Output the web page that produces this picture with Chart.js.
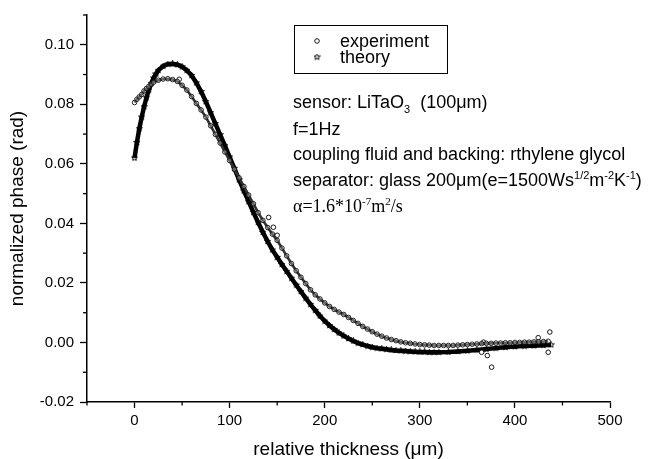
<!DOCTYPE html>
<html>
<head>
<meta charset="utf-8">
<script src="https://cdn.jsdelivr.net/npm/chart.js@4.4.0/dist/chart.umd.min.js"></script>
<style>
html,body{margin:0;padding:0;background:#fff;}
#wrap{width:662px;height:459px;}
</style>
</head>
<body>
<div id="wrap"><canvas id="c" width="662" height="459"></canvas></div>
<script>
// ---------- data ----------
const seriesNames = ['experiment', 'theory'];

const expX = [
  0, 2.5, 5, 7.5, 10, 12.5, 15, 17.5, 20, 25,
  30, 35, 40, 45, 50, 55, 60, 65, 70, 75,
  80, 85, 90, 95, 100, 105, 110, 115, 120, 125,
  130, 135, 140, 145, 150, 155, 160, 165, 170, 175,
  180, 185, 190, 195, 200, 205, 210, 215, 220, 225,
  230, 235, 240, 245, 250, 255, 260, 265, 270, 275,
  280, 285, 290, 295, 300, 305, 310, 315, 320, 325,
  330, 335, 340, 345, 350, 355, 360, 365, 370, 375,
  380, 385, 390, 395, 400, 405, 410, 415, 420, 425,
  430, 435
];
const expY = [
  0.0806, 0.0817, 0.0825, 0.0833, 0.0845, 0.0853, 0.0860, 0.0867, 0.0874, 0.0881,
  0.0885, 0.0886, 0.0883, 0.0877, 0.0864, 0.0848, 0.0826, 0.0803, 0.0781, 0.0757,
  0.0728, 0.0699, 0.0670, 0.0640, 0.0611, 0.0582, 0.0553, 0.0524, 0.0495, 0.0466,
  0.0436, 0.0410, 0.0386, 0.0364, 0.0343, 0.0317, 0.0291, 0.0265, 0.0241, 0.0219,
  0.0198, 0.0177, 0.0160, 0.0146, 0.0133, 0.0121, 0.0111, 0.0102, 0.0094, 0.0084,
  0.0074, 0.0064, 0.0054, 0.0045, 0.0036, 0.0028, 0.0021, 0.0015, 0.0010, 0.0006,
  0.0002, -0.0001, -0.0003, -0.0005, -0.0007, -0.0008, -0.0009, -0.0010, -0.0010, -0.0010,
  -0.0010, -0.0010, -0.0009, -0.0008, -0.0007, -0.0006, -0.0005, -0.0004, -0.0003, -0.0003,
  -0.0002, -0.0002, -0.0001, -0.0001, 0.0000, 0.0000, 0.0001, 0.0001, 0.0002, 0.0002,
  0.0003, 0.0004
];
// scattered experimental points off the main band
const expOutX = [47, 141, 146, 150, 365, 367, 371, 375.5, 424.5, 435, 436.7];
const expOutY = [0.0884, 0.0420, 0.0387, 0.0360, -0.0033, 0.0001, -0.0044, -0.0083, 0.0016, -0.0033, 0.0035];

const theoX = [
  0, 2.5, 5, 7.5, 10, 12.5, 15, 17.5, 20, 22.5,
  25, 30, 35, 40, 45, 50, 55, 60, 65, 70,
  75, 80, 85, 90, 95, 100, 105, 110, 115, 120,
  125, 130, 135, 140, 145, 150, 155, 160, 165, 170,
  175, 180, 185, 190, 195, 200, 205, 210, 215, 220,
  225, 230, 235, 240, 245, 250, 255, 260, 265, 270,
  275, 280, 285, 290, 295, 300, 305, 310, 315, 320,
  330, 340, 350, 360, 370, 380, 390, 400, 410, 420,
  430, 438
];
const theoY = [
  0.0620, 0.0672, 0.0718, 0.0757, 0.0792, 0.0822, 0.0848, 0.0870, 0.0888, 0.0902,
  0.0914, 0.0928, 0.0935, 0.0936, 0.0933, 0.0926, 0.0914, 0.0897, 0.0872, 0.0843,
  0.0809, 0.0772, 0.0735, 0.0698, 0.0661, 0.0623, 0.0585, 0.0546, 0.0509, 0.0473,
  0.0437, 0.0403, 0.0370, 0.0339, 0.0311, 0.0286, 0.0262, 0.0239, 0.0216, 0.0193,
  0.0171, 0.0149, 0.0128, 0.0108, 0.0089, 0.0072, 0.0057, 0.0044, 0.0032, 0.0022,
  0.0013, 0.0005, -0.0002, -0.0007, -0.0012, -0.0016, -0.0019, -0.0021, -0.0023, -0.0025,
  -0.0027, -0.0028, -0.0029, -0.0030, -0.0031, -0.0032, -0.0032, -0.0033, -0.0033, -0.0033,
  -0.0032, -0.0030, -0.0028, -0.0025, -0.0022, -0.0019, -0.0016, -0.0014, -0.0012, -0.0011,
  -0.0009, -0.0008
];

const xTicks = [0, 100, 200, 300, 400, 500];
const xMinor = [-50, 50, 150, 250, 350, 450];
const yTicks = [-0.02, 0.00, 0.02, 0.04, 0.06, 0.08, 0.10];
const yMinor = [-0.01, 0.01, 0.03, 0.05, 0.07, 0.09, 0.11];
const xTitle = 'relative thickness (\u03bcm)';
const yTitle = 'normalized phase (rad)';

// ---------- styling ----------
const SANS = "'Liberation Sans', Arial, sans-serif";
const SERIF = "'Liberation Serif', 'Times New Roman', serif";

function makeStar(size, fill) {
  const c = document.createElement('canvas');
  c.width = size; c.height = size;
  const g = c.getContext('2d');
  const cx = size / 2, cy = size / 2, R = size / 2 - 0.4, r = R * 0.45;
  g.beginPath();
  for (let i = 0; i < 10; i++) {
    const a = -Math.PI / 2 + i * Math.PI / 5;
    const rr = i % 2 ? r : R;
    g.lineTo(cx + rr * Math.cos(a), cy + rr * Math.sin(a));
  }
  g.closePath();
  if (fill) { g.fillStyle = fill; g.fill(); }
  g.strokeStyle = '#000';
  g.lineWidth = 1;
  g.stroke();
  return c;
}
const starImg = makeStar(7, null);

const pts = (xs, ys) => xs.map((x, i) => ({ x: x, y: ys[i] }));

const minorTicks = {
  id: 'minorTicks',
  afterDraw(chart) {
    const { ctx, chartArea: a } = chart;
    const xs = chart.scales.x, ys = chart.scales.y;
    ctx.save();
    ctx.strokeStyle = '#000';
    ctx.lineWidth = 1.3;
    xMinor.forEach(v => {
      const px = xs.getPixelForValue(v);
      ctx.beginPath(); ctx.moveTo(px, a.bottom); ctx.lineTo(px, a.bottom + 3.5); ctx.stroke();
    });
    yMinor.forEach(v => {
      const py = ys.getPixelForValue(v);
      ctx.beginPath(); ctx.moveTo(a.left, py); ctx.lineTo(a.left - 4, py); ctx.stroke();
    });
    ctx.restore();
  }
};

function drawRich(ctx, x, y, parts) {
  let cx = x;
  parts.forEach(p => {
    ctx.font = p.s + 'px ' + (p.f || SANS);
    ctx.fillText(p.t, cx, y + (p.dy || 0));
    cx += ctx.measureText(p.t).width;
  });
}

const annotations = {
  id: 'annotations',
  afterDraw(chart) {
    const ctx = chart.ctx;
    ctx.save();
    ctx.fillStyle = '#000';
    ctx.strokeStyle = '#000';
    // legend box
    ctx.lineWidth = 1;
    ctx.strokeRect(294.5, 25.5, 153, 48);
    // legend symbols
    ctx.beginPath();
    ctx.arc(317, 41, 2.3, 0, Math.PI * 2);
    ctx.lineWidth = 0.9;
    ctx.stroke();
    ctx.drawImage(makeStar(7, '#fff'), 313.5, 53.5);
    ctx.textBaseline = 'alphabetic';
    ctx.textAlign = 'left';
    ctx.font = '18px ' + SANS;
    ctx.fillText(seriesNames[0], 340, 47);
    ctx.fillText(seriesNames[1], 340, 63);
    // parameter notes
    const L = 293;
    drawRich(ctx, L, 108, [
      { t: 'sensor: LiTaO', s: 18 },
      { t: '3', s: 11, dy: 5 },
      { t: '  (100\u03bcm)', s: 18 }
    ]);
    drawRich(ctx, L, 134.5, [{ t: 'f=1Hz', s: 18 }]);
    drawRich(ctx, L, 160, [{ t: 'coupling fluid and backing: rthylene glycol', s: 18 }]);
    drawRich(ctx, L, 186, [
      { t: 'separator: glass 200\u03bcm(e=1500Ws', s: 18 },
      { t: '1/2', s: 11, dy: -7 },
      { t: 'm', s: 18 },
      { t: '-2', s: 11, dy: -7 },
      { t: 'K', s: 18 },
      { t: '-1', s: 11, dy: -7 },
      { t: ')', s: 18 }
    ]);
    drawRich(ctx, L, 212, [
      { t: '\u03b1=1.6*10', s: 18, f: SERIF },
      { t: '-7', s: 11, dy: -7, f: SERIF },
      { t: 'm', s: 18, f: SERIF },
      { t: '2', s: 11, dy: -7, f: SERIF },
      { t: '/s', s: 18, f: SERIF }
    ]);
    ctx.restore();
  }
};

const tickFont = { family: SANS, size: 15 };
const titleFont = { family: SANS, size: 19, lineHeight: 1 };

new Chart(document.getElementById('c'), {
  type: 'scatter',
  data: {
    datasets: [
      {
        label: seriesNames[0],
        data: pts(expX, expY),
        showLine: true,
        borderColor: '#333',
        borderWidth: 2.6,
        pointStyle: 'circle',
        pointRadius: 2.3,
        pointBorderWidth: 0.9,
        pointBorderColor: '#111',
        pointBackgroundColor: 'rgba(255,255,255,0.25)'
      },
      {
        label: seriesNames[0] + ' (scatter)',
        data: pts(expOutX, expOutY),
        showLine: false,
        pointStyle: 'circle',
        pointRadius: 2.3,
        pointBorderWidth: 0.9,
        pointBorderColor: '#000',
        pointBackgroundColor: '#fff'
      },
      {
        label: seriesNames[1],
        data: pts(theoX, theoY),
        showLine: true,
        borderColor: '#000',
        borderWidth: 4.5,
        pointStyle: starImg,
        pointRadius: 3
      }
    ]
  },
  options: {
    responsive: false,
    animation: false,
    devicePixelRatio: 1,
    layout: { padding: { top: 15, right: 52, bottom: 0, left: 0 } },
    plugins: { legend: { display: false }, tooltip: { enabled: false } },
    scales: {
      x: {
        type: 'linear',
        min: -50,
        max: 500,
        afterBuildTicks: s => { s.ticks = xTicks.map(v => ({ value: v })); },
        ticks: { font: tickFont, color: '#000', padding: 4, maxRotation: 0, autoSkip: false,
                 callback: v => String(v) },
        grid: { drawOnChartArea: false, drawTicks: true, tickLength: 6, tickColor: '#000', tickWidth: 1.3 },
        border: { display: true, color: '#000', width: 1.5 },
        title: { display: true, text: xTitle, font: titleFont, color: '#000', padding: { top: 0, bottom: 0 } },
        afterFit: s => { s.height = 57; }
      },
      y: {
        type: 'linear',
        min: -0.02,
        max: 0.11,
        afterBuildTicks: s => { s.ticks = yTicks.map(v => ({ value: v })); },
        ticks: { font: tickFont, color: '#000', padding: 6, autoSkip: false,
                 callback: v => Number(v).toFixed(2) },
        grid: { drawOnChartArea: false, drawTicks: true, tickLength: 7, tickColor: '#000', tickWidth: 1.3 },
        border: { display: true, color: '#000', width: 1.5 },
        title: { display: true, text: yTitle, font: titleFont, color: '#000', padding: { top: 8, bottom: 0 } },
        afterFit: s => { s.width = 87; }
      }
    }
  },
  plugins: [minorTicks, annotations]
});
</script>
</body>
</html>
